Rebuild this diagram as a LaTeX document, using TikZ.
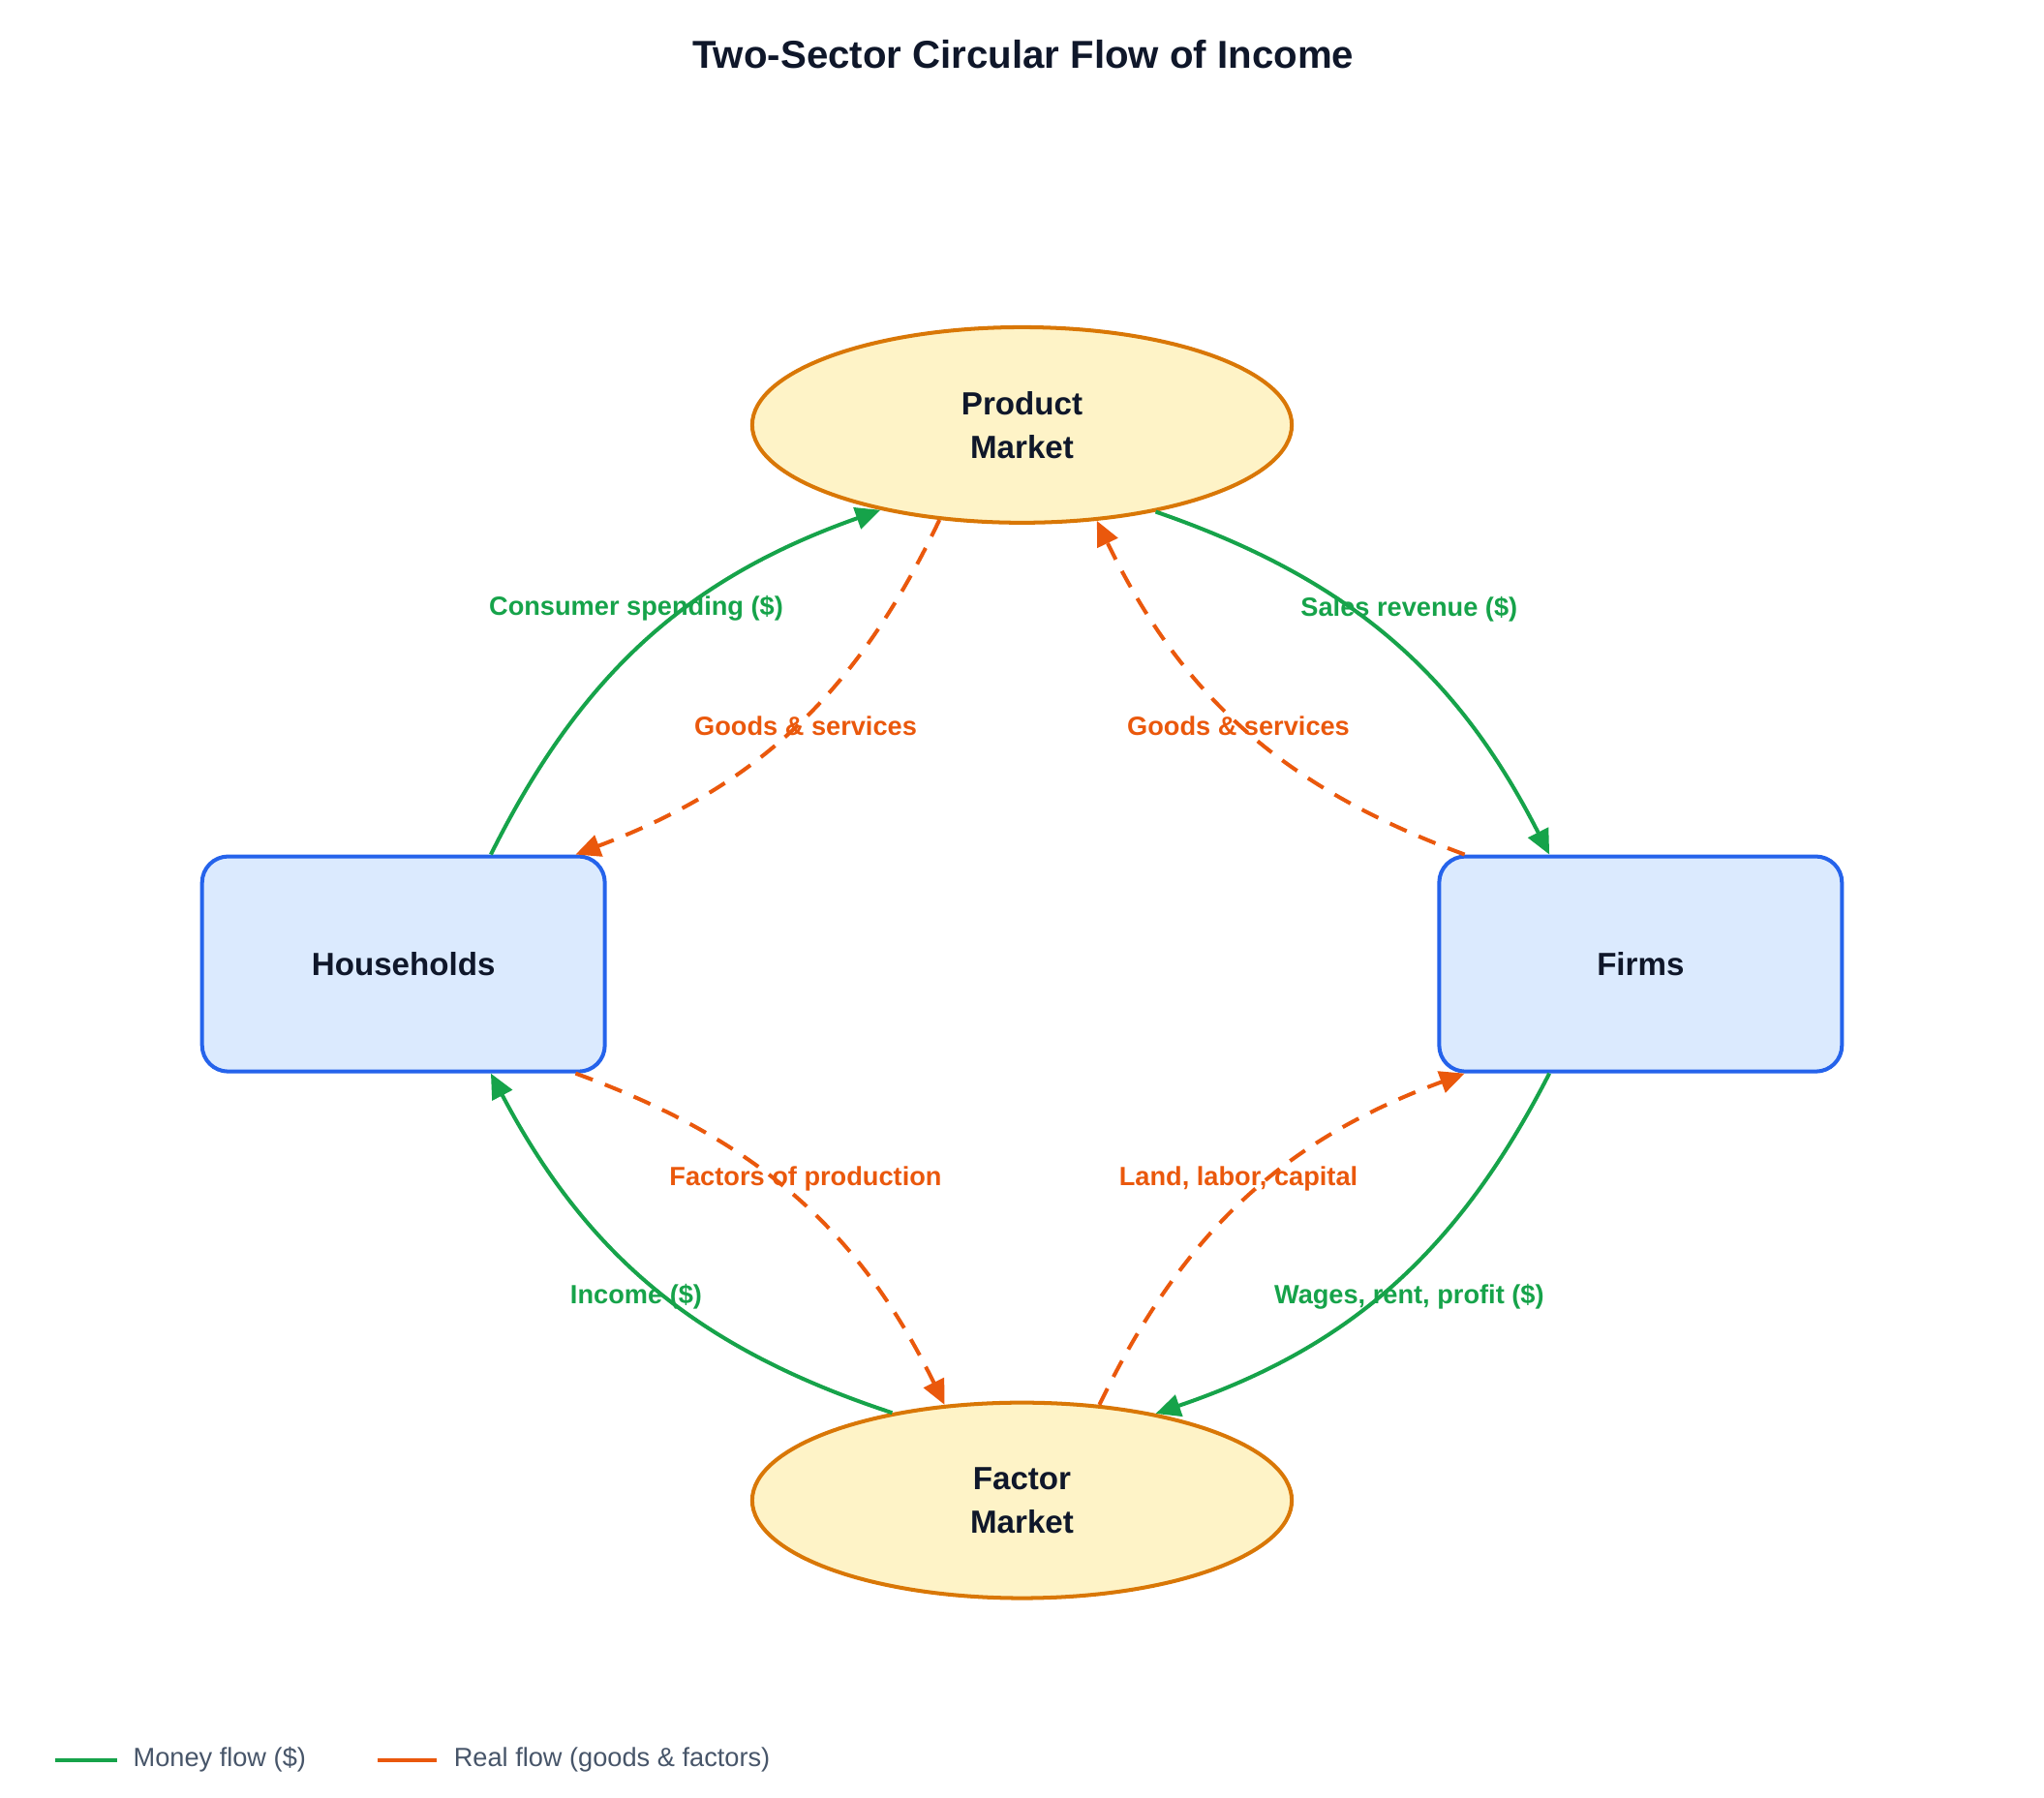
\documentclass[tikz,border=0pt]{standalone}
\usepackage{fontspec}
\setmainfont{Liberation Sans}
\usetikzlibrary{shapes.geometric,arrows.meta,calc}
\definecolor{money}{HTML}{16A34A}
\definecolor{real}{HTML}{EA580C}
\definecolor{blueS}{HTML}{2563EB}
\definecolor{blueF}{HTML}{DBEAFE}
\definecolor{ambS}{HTML}{D97706}
\definecolor{ambF}{HTML}{FEF3C7}
\definecolor{ink}{HTML}{0F172A}
\definecolor{gray}{HTML}{475569}
\tikzset{
 market/.style={ellipse,draw=ambS,fill=ambF,line width=1.7pt,minimum width=8.28cm,minimum height=3cm,inner sep=0pt,align=center,font=\fontsize{14}{19}\selectfont\bfseries,text=ink},
 sector/.style={rectangle,rounded corners=0.4cm,draw=blueS,fill=blueF,line width=1.7pt,minimum width=6.18cm,minimum height=3.3cm,font=\fontsize{14}{19}\selectfont\bfseries,text=ink},
 moneyflow/.style={draw=money,line width=1.7pt,-{Triangle[length=0.38cm,width=0.34cm]},bend left=22},
 realflow/.style={draw=real,line width=1.7pt,dash pattern=on 0.28cm off 0.2cm,-{Triangle[length=0.38cm,width=0.34cm]},bend left=22},
 mlab/.style={text=money,font=\fontsize{11.5}{14}\selectfont\bfseries},
 rlab/.style={text=real,font=\fontsize{11.5}{14}\selectfont\bfseries},
}
\begin{document}
\begin{tikzpicture}[x=0.02cm,y=-0.02cm]
\useasboundingbox (0,0) rectangle (1568,1379);
\node[font=\fontsize{17}{20}\selectfont\bfseries,text=ink] (title) at (785,42) {Two-Sector Circular Flow of Income};
\node[market] (pm) at (784,326) {Product\\Market};
\node[market] (fm) at (784,1151) {Factor\\Market};
\node[sector] (hh) at (309.5,739.5) {Households};
\node[sector] (fi) at (1258.5,739.5) {Firms};
\draw[moneyflow] ($(hh.north west)+(223,0)$) to (pm.211.6);
\draw[moneyflow] (pm.327.6) to ($(fi.north west)+(86,0)$);
\draw[moneyflow] ($(fi.south west)+(86,0)$) to (fm.33.6);
\draw[moneyflow] (fm.146.8) to ($(hh.south west)+(223,0)$);
\draw[realflow] (pm.229.8) to ($(hh.north west)+(288,0)$);
\draw[realflow] ($(fi.north west)+(21,0)$) to (pm.308.3);
\draw[realflow] ($(hh.south west)+(288,0)$) to (fm.129.4);
\draw[realflow] (fm.51) to ($(fi.south west)+(21,0)$);
\node[mlab] (l1) at (488,467) {Consumer spending (\$)};
\node[mlab] (l2) at (1081,467) {Sales revenue (\$)};
\node[mlab] (l3) at (1081,995) {Wages, rent, profit (\$)};
\node[mlab] (l4) at (488,995) {Income (\$)};
\node[rlab] (l5) at (618,557) {Goods \& services};
\node[rlab] (l6) at (950,557) {Goods \& services};
\node[rlab] (l7) at (618,904) {Factors of production};
\node[rlab] (l8) at (950,904) {Land, labor, capital};
\coordinate (g1) at (42,1350); \coordinate (g2) at (90,1350);
\coordinate (o1) at (290,1350); \coordinate (o2) at (335,1350);
\draw[money,line width=1.7pt] (g1) -- (g2);
\draw[real,line width=1.7pt] (o1) -- (o2);
\node[anchor=west,text=gray,font=\fontsize{11.5}{14}\selectfont] (t1) at (96,1350) {Money flow (\$)};
\node[anchor=west,text=gray,font=\fontsize{11.5}{14}\selectfont] (t2) at (342,1350) {Real flow (goods \& factors)};
\end{tikzpicture}
\end{document}
